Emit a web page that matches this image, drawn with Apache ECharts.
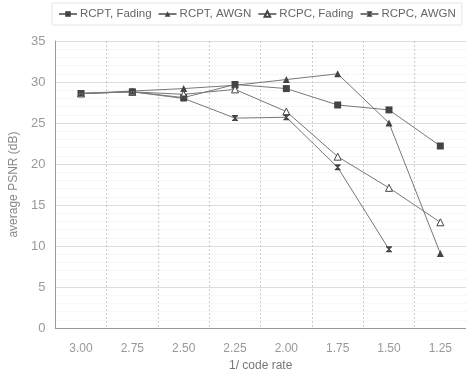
<!DOCTYPE html>
<html><head><meta charset="utf-8">
<script src="https://cdn.jsdelivr.net/npm/echarts@6/dist/echarts.min.js"></script>
<style>html,body{margin:0;padding:0;background:#fff}#c{width:466px;height:377px}</style>
</head><body><div id="c"></div>
<script>
const categories = ['3.00','2.75','2.50','2.25','2.00','1.75','1.50','1.25'];
const rcptFading = [28.6, 28.8, 28.1, 29.7, 29.2, 27.2, 26.6, 22.2];
const rcptAwgn   = [28.6, 28.9, 29.2, 29.6, 30.3, 31.0, 25.0, 9.1];
const rcpcFading = [28.6, 28.8, 28.5, 29.1, 26.4, 20.9, 17.1, 12.9];
const rcpcAwgn   = [28.6, 28.8, 28.0, 25.6, 25.7, 19.6, 9.6, null];

const lineCol = '#777';
const markCol = '#444';
const hourglass = 'path://M0,0L10,0L10,1.5L6,5L10,8.5L10,10L0,10L0,8.5L4,5L0,1.5Z';
function s(name, data, symbol, size, open) {
  return {
    name, type: 'line', data, symbol, symbolSize: size,
    lineStyle: {color: lineCol, width: 1},
    itemStyle: {color: open ? '#fff' : markCol, borderColor: markCol, borderWidth: open ? 1 : 0},
    showAllSymbol: true, animation: false
  };
}
const chart = echarts.init(document.getElementById('c'));
chart.setOption({
  animation: false,
  textStyle: {fontFamily: 'Liberation Sans, Arial, sans-serif'},
  legend: {
    top: 3, left: 52, itemWidth: 18, itemHeight: 7, itemGap: 6,
    borderColor: '#e6e6e6', borderWidth: 1, padding: [5, 6],
    textStyle: {color: '#666', fontSize: 11.5, padding: [0, 0, 0, -2]},
    data: ['RCPT, Fading','RCPT, AWGN','RCPC, Fading','RCPC, AWGN']
  },
  grid: {left: 48, right: 0, top: 41, bottom: 43},
  xAxis: {
    type: 'category', data: categories, boundaryGap: true,
    name: '1/ code rate', nameLocation: 'middle', nameGap: 28,
    nameTextStyle: {color: '#777', fontSize: 12},
    axisLine: {lineStyle: {color: '#999'}},
    axisTick: {show: false},
    axisLabel: {color: '#999', fontSize: 12, margin: 15},
    splitLine: {show: true, lineStyle: {color: '#ccc', type: [2, 2]}}
  },
  yAxis: {
    type: 'value', min: 0, max: 35, interval: 5,
    name: 'average PSNR (dB)', nameLocation: 'middle', nameGap: 31,
    nameTextStyle: {color: '#888', fontSize: 12},
    axisLine: {show: true, lineStyle: {color: '#999'}},
    axisTick: {show: false},
    axisLabel: {color: '#999', fontSize: 13, margin: 10},
    splitLine: {show: true, lineStyle: {color: '#ddd'}},
    minorTick: {show: false, splitNumber: 5},
    minorSplitLine: {show: true, lineStyle: {color: '#eee', type: [2, 2]}}
  },
  series: [
    s('RCPT, Fading', rcptFading, 'rect', 7, false),
    s('RCPT, AWGN', rcptAwgn, 'triangle', 7, false),
    s('RCPC, Fading', rcpcFading, 'triangle', 7, true),
    s('RCPC, AWGN', rcpcAwgn, hourglass, 6, false)
  ]
});
</script></body></html>
